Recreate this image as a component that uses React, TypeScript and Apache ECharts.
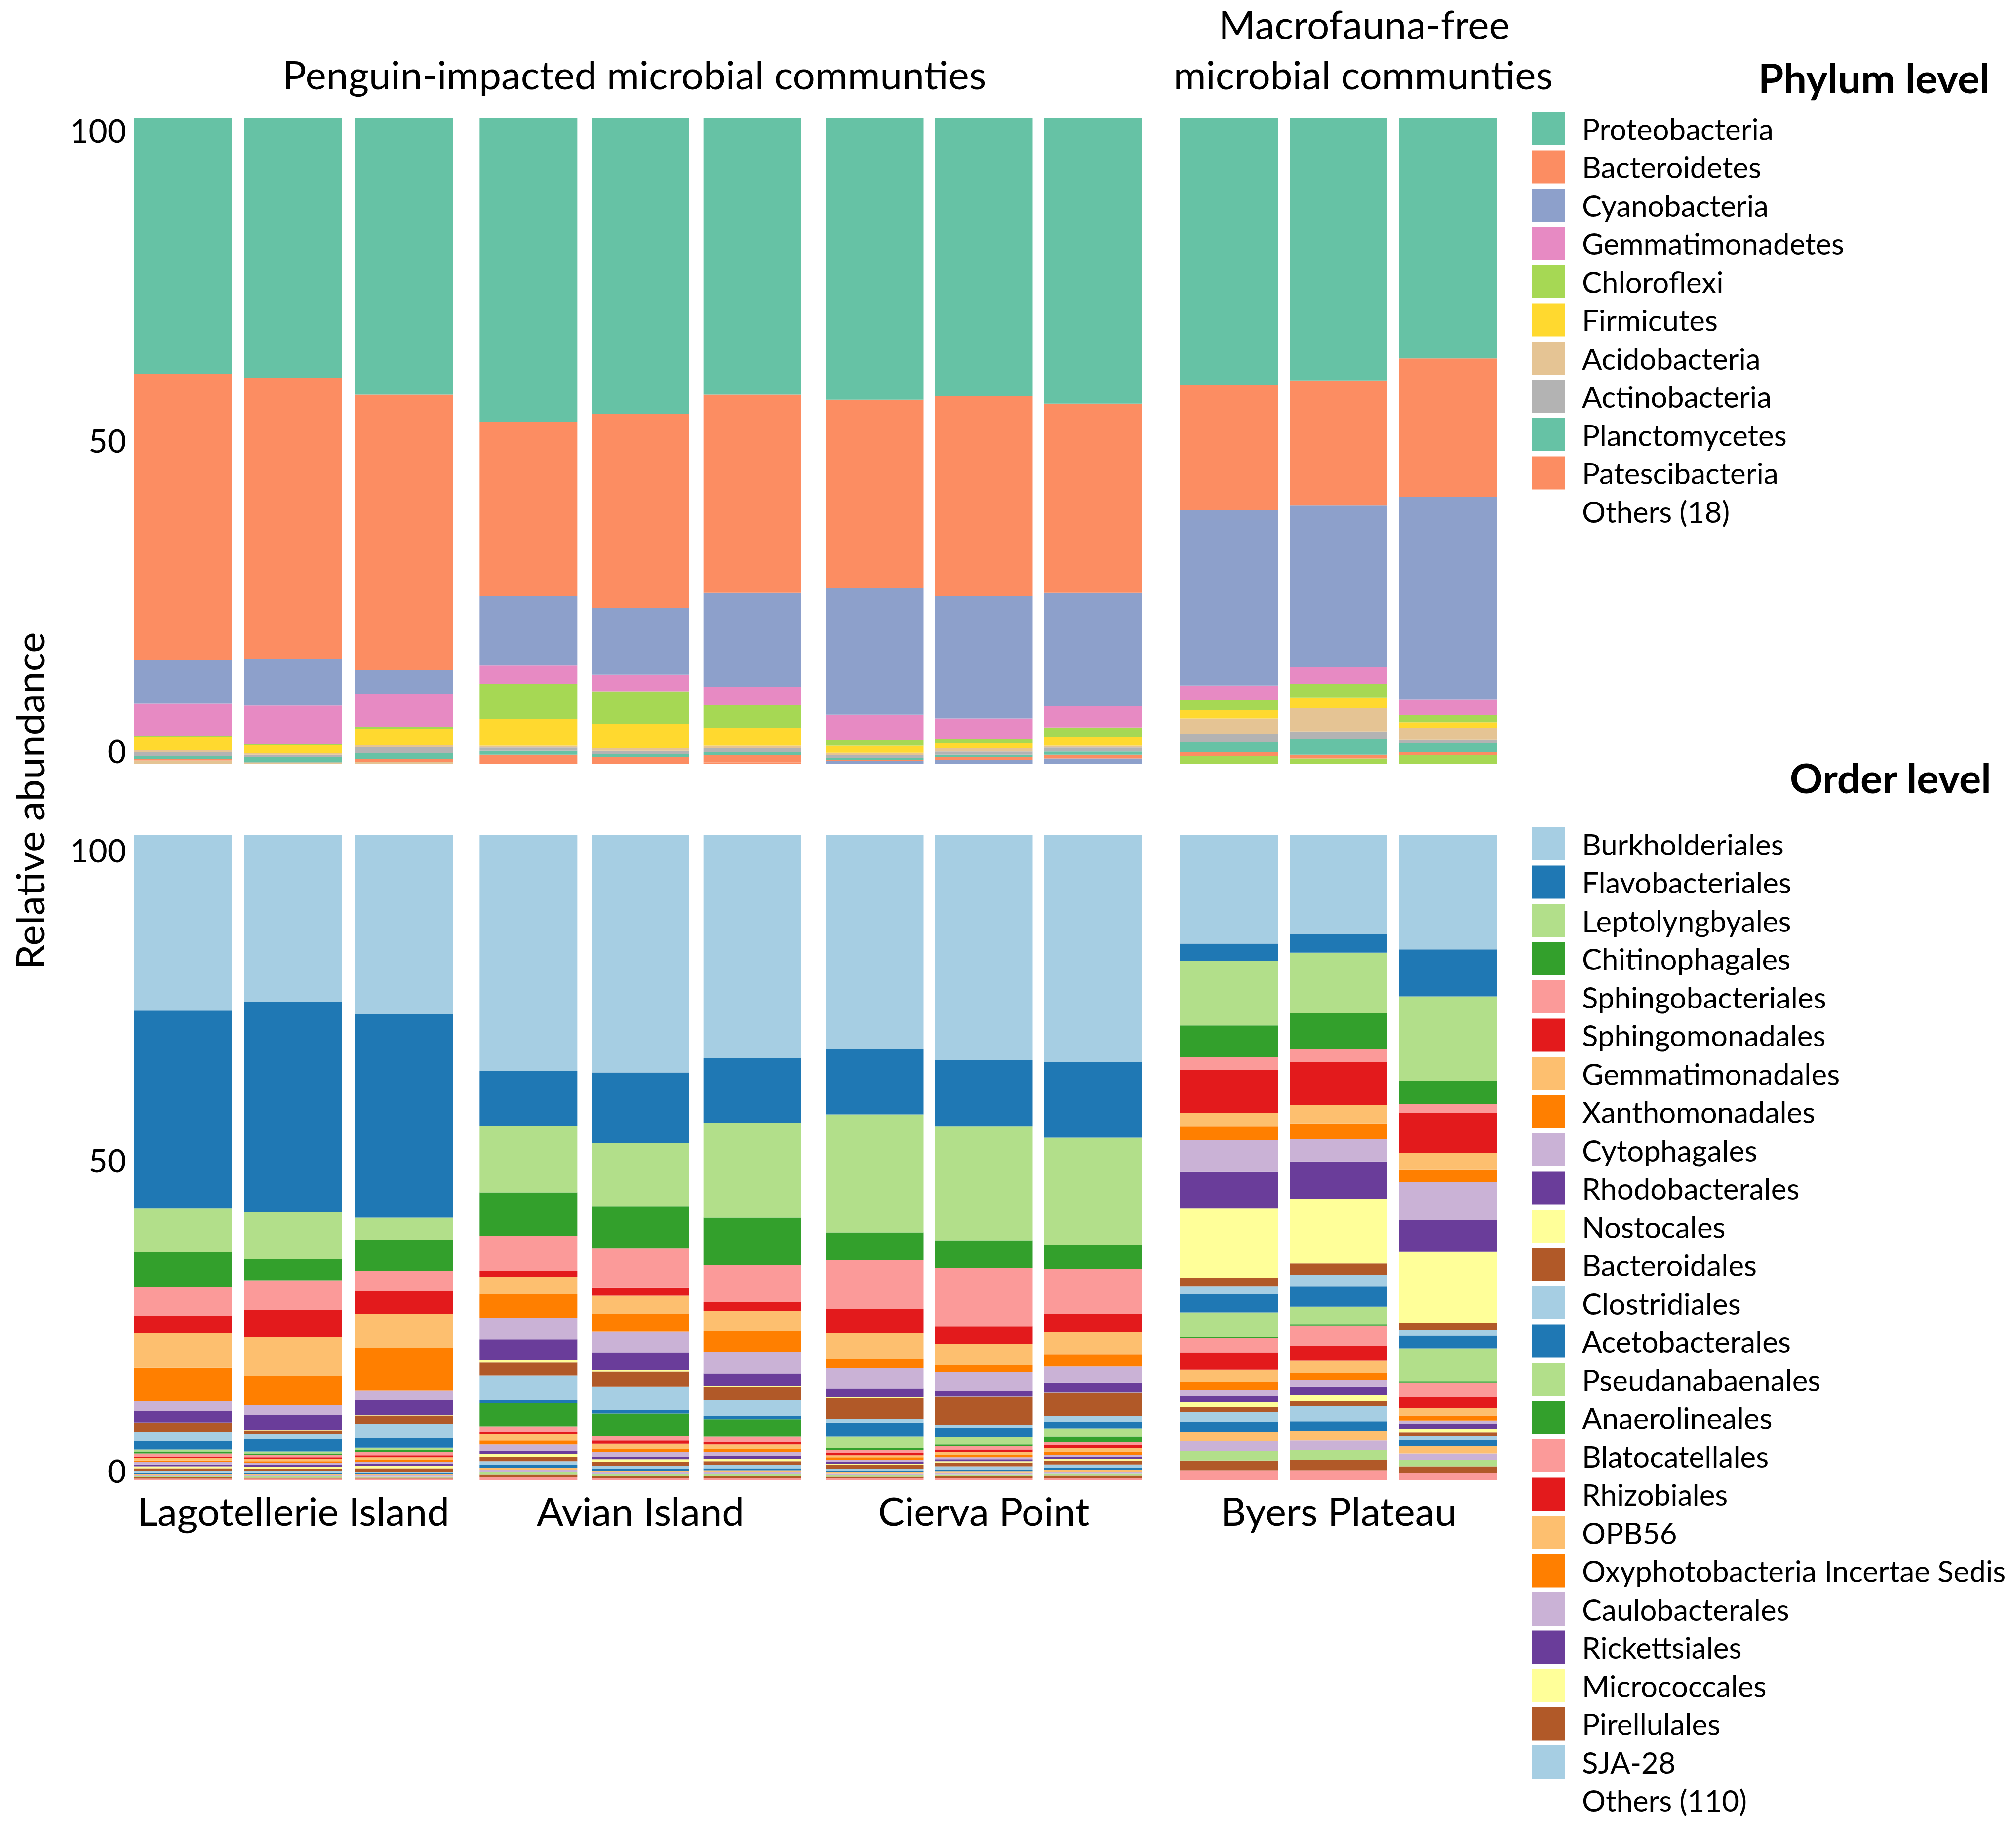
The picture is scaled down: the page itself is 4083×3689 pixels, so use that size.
import React, { useEffect, useRef } from 'react';
import * as echarts from 'echarts';

// ---------- categories ----------
const sites = ['Lagotellerie Island', 'Avian Island', 'Cierva Point', 'Byers Plateau'];
const samples = ['L1', 'L2', 'L3', 'A1', 'A2', 'A3', 'C1', 'C2', 'C3', 'B1', 'B2', 'B3'];
const yTicks = [0, 50, 100];

// ---------- phylum level (% per sample) ----------
const phylumNames = [
  'Proteobacteria', 'Bacteroidetes', 'Cyanobacteria', 'Gemmatimonadetes', 'Chloroflexi',
  'Firmicutes', 'Acidobacteria', 'Actinobacteria', 'Planctomycetes', 'Patescibacteria',
];
const phylumOthersName = 'Others (18)';
const proteobacteria = [39.6, 40.2, 42.8, 47.0, 45.8, 42.8, 43.6, 43.0, 44.2, 41.3, 40.6, 37.2];
const bacteroidetes = [44.4, 43.6, 42.7, 27.0, 30.1, 30.7, 29.2, 31.0, 29.3, 19.4, 19.4, 21.4];
const cyanobacteria = [6.7, 7.2, 3.7, 10.8, 10.3, 14.6, 19.6, 19.0, 17.6, 27.2, 25.0, 31.5];
const gemmatimonadetes = [5.1, 6.0, 5.1, 2.8, 2.6, 2.8, 4.0, 3.2, 3.3, 2.3, 2.6, 2.4];
const chloroflexi = [0.1, 0.1, 0.3, 5.5, 5.0, 3.6, 0.8, 0.6, 1.5, 1.5, 2.2, 1.1];
const firmicutes = [2.0, 1.3, 2.5, 4.1, 3.8, 2.7, 1.1, 0.8, 1.3, 1.3, 1.6, 0.9];
const acidobacteria = [0.3, 0.2, 0.3, 0.3, 0.4, 0.4, 0.4, 0.5, 0.3, 2.4, 3.6, 1.8];
const actinobacteria = [0.6, 0.4, 1.0, 0.5, 0.5, 0.6, 0.4, 0.5, 0.6, 1.3, 1.2, 0.5];
const planctomycetes = [0.5, 0.8, 0.9, 0.6, 0.5, 0.5, 0.3, 0.4, 0.5, 1.5, 2.4, 1.4];
const patescibacteria = [0.2, 0.1, 0.4, 1.4, 1.0, 1.1, 0.2, 0.4, 0.6, 0.6, 0.6, 0.5];
const phylumOthers = [0.5, 0.1, 0.3, 0.0, 0.0, 0.2, 0.4, 0.6, 0.8, 1.2, 0.8, 1.3];
const phylumValues = [
  proteobacteria, bacteroidetes, cyanobacteria, gemmatimonadetes, chloroflexi,
  firmicutes, acidobacteria, actinobacteria, planctomycetes, patescibacteria,
];

// ---------- order level (% per sample) ----------
const orderNames = [
  'Burkholderiales', 'Flavobacteriales', 'Leptolyngbyales', 'Chitinophagales', 'Sphingobacteriales',
  'Sphingomonadales', 'Gemmatimonadales', 'Xanthomonadales', 'Cytophagales', 'Rhodobacterales',
  'Nostocales', 'Bacteroidales', 'Clostridiales', 'Acetobacterales', 'Pseudanabaenales',
  'Anaerolineales', 'Blatocatellales', 'Rhizobiales', 'OPB56', 'Oxyphotobacteria Incertae Sedis',
  'Caulobacterales', 'Rickettsiales', 'Micrococcales', 'Pirellulales', 'SJA-28',
];
const orderOthersName = 'Others (110)';
const burkholderiales = [27.2, 25.8, 27.8, 36.6, 36.8, 34.6, 33.2, 34.9, 35.2, 16.8, 15.4, 17.7];
const flavobacteriales = [30.7, 32.7, 31.5, 8.5, 10.9, 10.0, 10.1, 10.3, 11.7, 2.7, 2.8, 7.3];
const leptolyngbyales = [6.8, 7.2, 3.5, 10.3, 9.9, 14.7, 18.3, 17.7, 16.7, 10.0, 9.4, 13.1];
const chitinophagales = [5.4, 3.4, 4.8, 6.7, 6.5, 7.4, 4.3, 4.2, 3.7, 4.9, 5.6, 3.6];
const sphingobacteriales = [4.4, 4.5, 3.1, 5.5, 6.1, 5.7, 7.6, 9.1, 6.9, 2.0, 2.0, 1.4];
const sphingomonadales = [2.7, 4.2, 3.5, 0.9, 1.2, 1.4, 3.7, 2.7, 2.9, 6.7, 6.6, 6.2];
const gemmatimonadales = [5.4, 6.1, 5.3, 2.7, 2.8, 3.1, 4.1, 3.3, 3.4, 2.1, 2.9, 2.6];
const xanthomonadales = [5.2, 4.5, 6.6, 3.7, 2.8, 3.2, 1.4, 1.1, 1.9, 2.1, 2.4, 1.9];
const cytophagales = [1.5, 1.5, 1.5, 3.3, 3.2, 3.4, 3.1, 2.9, 2.5, 4.9, 3.5, 5.9];
const rhodobacterales = [1.8, 2.3, 2.3, 3.2, 2.8, 1.9, 1.4, 0.9, 1.5, 5.7, 5.8, 4.9];
const nostocales = [0.1, 0.1, 0.1, 0.4, 0.2, 0.2, 0.1, 0.1, 0.1, 10.7, 10.0, 11.1];
const bacteroidales = [1.3, 0.6, 1.3, 2.0, 2.3, 2.0, 3.2, 4.3, 3.6, 1.4, 1.8, 1.1];
const clostridiales = [1.5, 0.8, 2.2, 3.8, 3.7, 2.5, 0.6, 0.4, 0.9, 1.2, 1.8, 0.8];
const acetobacterales = [1.3, 1.9, 1.5, 0.5, 0.5, 0.5, 2.2, 1.5, 1.0, 2.8, 3.1, 2.0];
const pseudanabaenales = [0.3, 0.3, 0.4, 0.0, 0.0, 0.0, 1.8, 1.1, 1.3, 3.8, 2.8, 5.1];
const anaerolineales = [0.3, 0.2, 0.3, 3.6, 3.5, 2.7, 0.3, 0.3, 0.8, 0.2, 0.2, 0.2];
const blatocatellales = [0.5, 0.4, 0.5, 0.8, 0.7, 0.8, 0.4, 0.5, 0.5, 2.2, 3.1, 2.3];
const rhizobiales = [0.2, 0.2, 0.3, 0.4, 0.5, 0.4, 0.4, 0.4, 0.5, 2.7, 2.3, 1.7];
const opb56 = [0.4, 0.4, 0.4, 1.0, 0.8, 0.7, 0.3, 0.4, 0.5, 1.9, 1.9, 1.1];
const oxyphotobacteria = [0.2, 0.3, 0.3, 0.6, 0.5, 0.5, 0.4, 0.4, 0.5, 1.2, 1.1, 0.8];
const caulobacterales = [0.4, 0.3, 0.3, 1.0, 0.7, 0.6, 0.3, 0.3, 0.3, 1.0, 1.0, 0.5];
const rickettsiales = [0.3, 0.3, 0.3, 0.5, 0.4, 0.4, 0.3, 0.3, 0.3, 0.9, 1.3, 0.8];
const micrococcales = [0.3, 0.3, 0.4, 0.4, 0.4, 0.4, 0.2, 0.2, 0.3, 0.8, 1.0, 0.5];
const pirellulales = [0.4, 0.3, 0.5, 0.7, 0.6, 0.6, 0.6, 0.6, 0.6, 0.8, 0.8, 0.6];
const sja28 = [0.3, 0.3, 0.3, 0.6, 0.5, 0.5, 0.3, 0.5, 0.5, 1.5, 2.3, 0.6];
const orderValues = [
  burkholderiales, flavobacteriales, leptolyngbyales, chitinophagales, sphingobacteriales,
  sphingomonadales, gemmatimonadales, xanthomonadales, cytophagales, rhodobacterales,
  nostocales, bacteroidales, clostridiales, acetobacterales, pseudanabaenales,
  anaerolineales, blatocatellales, rhizobiales, opb56, oxyphotobacteria,
  caulobacterales, rickettsiales, micrococcales, pirellulales, sja28,
];
// "Others (110)": the many minor orders, shown as thin stripes (bottom first)
const orderOthers1 = [0.2, 0.2, 0.2, 0.4, 0.3, 0.3, 0.25, 0.3, 0.3, 1.5, 1.5, 1.0];
const orderOthers2 = [0.2, 0.15, 0.15, 0.4, 0.3, 0.3, 0.25, 0.25, 0.35, 1.5, 1.6, 1.1];
const orderOthers3 = [0.15, 0.2, 0.15, 0.35, 0.25, 0.3, 0.2, 0.25, 0.3, 1.5, 1.5, 1.0];
const orderOthers4 = [0.2, 0.2, 0.2, 0.4, 0.3, 0.3, 0.25, 0.3, 0.3, 1.5, 1.5, 1.0];
const orderOthers5 = [0.15, 0.15, 0.15, 0.35, 0.3, 0.3, 0.2, 0.25, 0.35, 1.5, 1.5, 1.1];
const orderOthers6 = [0.2, 0.2, 0.15, 0.4, 0.25, 0.3, 0.25, 0.25, 0.3, 1.5, 1.5, 1.0];
const orderOthers = [orderOthers1, orderOthers2, orderOthers3, orderOthers4, orderOthers5, orderOthers6];

// ---------- styles ----------
const set2 = ['#66C2A5', '#FC8D62', '#8DA0CB', '#E78AC3', '#A6D854', '#FFD92F', '#E5C494', '#B3B3B3'];
const paired = ['#A6CEE3', '#1F78B4', '#B2DF8A', '#33A02C', '#FB9A99', '#E31A1C', '#FDBF6F', '#FF7F00', '#CAB2D6', '#6A3D9A', '#FFFF99', '#B15928'];
const phylumOthersColors = ['#E5C494', '#E5C494', '#E5C494', '#FC8D62', '#FC8D62', '#FC8D62', '#8DA0CB', '#8DA0CB', '#8DA0CB', '#A6D854', '#A6D854', '#A6D854'];
const orderOthersColors = ['#FB9A99', '#B15928', '#B2DF8A', '#CAB2D6', '#FDBF6F', '#1F78B4'];

const FONT = 'Lato, "Open Sans", "Noto Sans", sans-serif';
const gridLeft = [258, 957, 1661, 2378];
const gridWidth = [672, 680, 663, 666];
const panelTop = [240, 1692];
const panelHeight = [1307, 1306];
const labelAxisRange = [[-2.07, 101.83], [-1.59, 102.31]];
const BAR_W = 198;

function buildOption() {
  const grid: any[] = [];
  const xAxis: any[] = [];
  const yAxis: any[] = [];
  const series: any[] = [];

  for (let p = 0; p < 2; p++) {
    for (let g = 0; g < 4; g++) {
      const idx = p * 4 + g;
      grid.push({ left: gridLeft[g], width: gridWidth[g], top: panelTop[p], height: panelHeight[p] });
      xAxis.push({
        type: 'category',
        gridIndex: idx,
        data: samples.slice(g * 3, g * 3 + 3),
        axisLine: { show: false },
        axisTick: { show: false },
        axisLabel: { show: false },
        splitLine: { show: false },
        name: p === 1 ? sites[g] : '',
        nameLocation: 'middle',
        nameGap: 22,
        nameTextStyle: { fontFamily: FONT, fontSize: 80, color: '#000', verticalAlign: 'top' },
      });
      yAxis.push({ type: 'value', gridIndex: idx, min: 0, max: 100, show: false });
    }
  }
  // label axes (tick labels placed as in the figure)
  for (let p = 0; p < 2; p++) {
    yAxis.push({
      type: 'value',
      gridIndex: p * 4,
      position: 'left',
      min: labelAxisRange[p][0],
      max: labelAxisRange[p][1],
      axisLine: { show: false },
      axisTick: { show: false },
      splitLine: { show: false },
      axisLabel: {
        customValues: yTicks,
        fontFamily: FONT,
        fontSize: 66,
        color: '#000',
        margin: 2,
      },
    });
  }

  const barBase = (idx: number, stack: string) => ({
    type: 'bar',
    xAxisIndex: idx,
    yAxisIndex: idx,
    stack,
    barWidth: BAR_W,
    silent: true,
    emphasis: { disabled: true },
    animation: false,
  });

  // phylum panel: bottom of stack first
  for (let g = 0; g < 4; g++) {
    const idx = g;
    const st = 'phy' + g;
    series.push({
      ...barBase(idx, st),
      name: phylumOthersName,
      itemStyle: { color: phylumOthersColors[g * 3] },
      data: phylumOthers.slice(g * 3, g * 3 + 3).map((v, i) => ({ value: v, itemStyle: { color: phylumOthersColors[g * 3 + i] } })),
    });
    for (let k = phylumNames.length - 1; k >= 0; k--) {
      series.push({
        ...barBase(idx, st),
        name: phylumNames[k],
        itemStyle: { color: set2[k % set2.length] },
        data: phylumValues[k].slice(g * 3, g * 3 + 3),
      });
    }
  }
  // order panel
  for (let g = 0; g < 4; g++) {
    const idx = 4 + g;
    const st = 'ord' + g;
    orderOthers.forEach((arr, j) => {
      series.push({
        ...barBase(idx, st),
        name: orderOthersName,
        itemStyle: { color: orderOthersColors[j] },
        data: arr.slice(g * 3, g * 3 + 3),
      });
    });
    for (let k = orderNames.length - 1; k >= 0; k--) {
      series.push({
        ...barBase(idx, st),
        name: orderNames[k],
        itemStyle: { color: paired[k % paired.length] },
        data: orderValues[k].slice(g * 3, g * 3 + 3),
      });
    }
  }

  const legendCommon = {
    orient: 'vertical',
    left: 3102,
    width: 980,
    itemWidth: 67,
    itemHeight: 67,
    itemGap: 10.5,
    icon: 'rect',
    selectedMode: false,
    padding: 0,
    textStyle: { fontFamily: FONT, fontSize: 60, lineHeight: 64, color: '#000', padding: [0, 0, 0, 30] },
  };
  const hidden = { color: 'rgba(0,0,0,0)', opacity: 0, borderWidth: 0 };
  const legend = [
    {
      ...legendCommon,
      top: 227,
      height: 1000,
      data: [...phylumNames.map((n) => ({ name: n })), { name: phylumOthersName, itemStyle: hidden }],
    },
    {
      ...legendCommon,
      top: 1676,
      height: 2100,
      data: [...orderNames.map((n) => ({ name: n })), { name: orderOthersName, itemStyle: hidden }],
    },
  ];

  const txt = (text: string, x: number, y: number, size: number, weight: string, align: string, rotation = 0) => ({
    type: 'text',
    x,
    y,
    rotation,
    silent: true,
    style: {
      text,
      fill: '#000',
      fontFamily: FONT,
      fontSize: size,
      fontWeight: weight,
      textAlign: align,
      align,
      textVerticalAlign: 'middle',
      verticalAlign: 'middle',
    },
  });

  const graphic = [
    txt('Penguin-impacted microbial communties', 1285, 150, 80, 'normal', 'center'),
    txt('Macrofauna-free', 2763, 48, 80, 'normal', 'center'),
    txt('microbial communties', 2761, 150, 80, 'normal', 'center'),
    txt('Phylum level', 4030, 157, 83, 'bold', 'right'),
    txt('Order level', 4033, 1575, 83, 'bold', 'right'),
    txt('Relative abundance', 59, 1622, 80, 'normal', 'center', Math.PI / 2),
  ];

  return {
    animation: false,
    backgroundColor: '#fff',
    grid,
    xAxis,
    yAxis,
    legend,
    graphic,
    series,
  };
}

export default function App() {
  const ref = useRef<HTMLDivElement>(null);
  useEffect(() => {
    document.body.style.margin = '0';
    const chart = echarts.init(ref.current as HTMLDivElement, null, { renderer: 'svg' });
    chart.setOption(buildOption() as any);
    return () => chart.dispose();
  }, []);
  return <div ref={ref} style={{ width: 4083, height: 3689 }} />;
}
